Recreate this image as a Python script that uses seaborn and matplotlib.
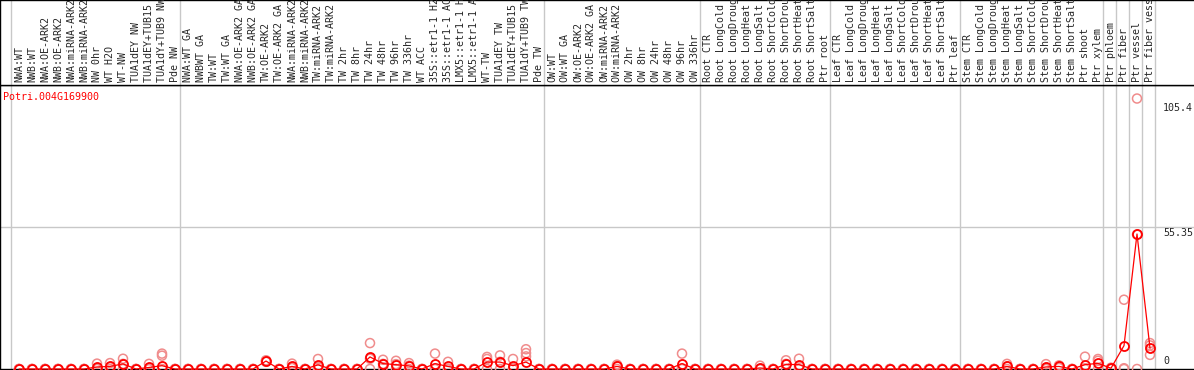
import matplotlib
matplotlib.use("Agg")
import matplotlib.pyplot as plt
import matplotlib.transforms as mtransforms
import numpy as np
import pandas as pd
import seaborn as sns

gene_id = "Potri.004G169900"

labels = [
    # NW
    "NWA:WT", "NWB:WT", "NWA:OE-ARK2", "NWB:OE-ARK2", "NWA:miRNA-ARK2", "NWB:miRNA-ARK2",
    "NW 0hr", "WT H2O", "WT-NW", "TUA1dEY NW", "TUA1dEY+TUB15 NW", "TUA1dY+TUB9 NW", "Pde NW",
    # TW
    "NWA:WT GA", "NWBWT GA", "TW:WT", "TW:WT GA", "NWA:OE-ARK2 GA", "NWB:OE-ARK2 GA",
    "TW:OE-ARK2", "TW:OE-ARK2 GA", "NWA:miRNA-ARK2", "NWB:miRNA-ARK2", "TW:miRNA-ARK2",
    "TW:miRNA-ARK2 GA", "TW 2hr", "TW 8hr", "TW 24hr", "TW 48hr", "TW 96hr", "TW 336hr",
    "WT ACC", "35S::etr1-1 H2O", "35S::etr1-1 ACC", "LMX5::etr1-1 H2O", "LMX5::etr1-1 ACC",
    "WT-TW", "TUA1dEY TW", "TUA1dEY+TUB15 TW", "TUA1dY+TUB9 TW", "Pde TW",
    # OW
    "OW:WT", "OW:WT GA", "OW:OE-ARK2", "OW:OE-ARK2 GA", "OW:miRNA-ARK2", "OW:miRNA-ARK2 GA",
    "OW 2hr", "OW 8hr", "OW 24hr", "OW 48hr", "OW 96hr", "OW 336hr",
    # root
    "Root CTR", "Root LongCold", "Root LongDrought", "Root LongHeat", "Root LongSalt",
    "Root ShortCold", "Root ShortDrought", "Root ShortHeat", "Root ShortSalt", "Ptr root",
    # leaf
    "Leaf CTR", "Leaf LongCold", "Leaf LongDrought", "Leaf LongHeat", "Leaf LongSalt",
    "Leaf ShortCold", "Leaf ShortDrought", "Leaf ShortHeat", "Leaf ShortSalt", "Ptr leaf",
    # stem
    "Stem CTR", "Stem LongCold", "Stem LongDrought", "Stem LongHeat", "Stem LongSalt",
    "Stem ShortCold", "Stem ShortDrought", "Stem ShortHeat", "Stem ShortSalt", "Ptr shoot",
    "Ptr xylem",
    # wood cell types
    "Ptr phloem", "Ptr fiber", "Ptr vessel", "Ptr fiber vessel",
]
group_sizes = [13, 28, 12, 10, 10, 11, 1, 1, 1, 1]

means = (
    [0, 0, 0, 0, 0, 0, 0.8, 1.0, 2.0, 0, 0.6, 1.3, 0]
    + [0, 0, 0, 0, 0, 0, 3.1, 0, 1.0, 0, 1.6, 0, 0, 0, 4.7, 2.1, 1.7, 1.2, 0, 2.1, 1.0, 0, 0,
       2.7, 2.7, 1.3, 2.7, 0]
    + [0, 0, 0, 0, 0, 1.0, 0, 0, 0, 0, 2.1, 0]
    + [0, 0, 0, 0, 0.4, 0, 1.8, 1.7, 0, 0]
    + [0] * 10
    + [0, 0, 0, 1.0, 0, 0, 0.8, 1.0, 0, 1.7, 2.2]
    + [0.3, 9.1, 52.6, 8.1]
)
rep_a = (
    [0, 0, 0, 0, 0, 0, 2.1, 2.3, 4.0, 0, 2.0, 6.0, 0]
    + [0, 0, 0, 0, 0, 0, 3.4, 0, 2.1, 0, 3.9, 0, 0, 0, 10.1, 3.6, 3.2, 2.3, 0, 6.0, 2.8, 0, 0,
       4.7, 5.3, 3.9, 7.7, 0]
    + [0, 0, 0, 0, 0, 1.7, 0, 0, 0, 0, 6.0, 0]
    + [0, 0, 0, 0, 1.3, 0, 3.4, 4.0, 0, 0]
    + [0] * 10
    + [0, 0, 0, 2.0, 0, 0, 1.9, 1.4, 0, 4.8, 3.9]
    + [0.5, 27.0, 105.4, 10.1]
)
rep_b = (
    [0, 0, 0, 0, 0, 0, 0.3, 0.7, 2.0, 0, 0, 5.2, 0]
    + [0, 0, 0, 0, 0, 0, 3.1, 0, 0.5, 0, 0.9, 0, 0, 0, 4.0, 2.0, 1.9, 1.3, 0, 0.3, 0.2, 0, 0,
       3.9, 2.8, 0, 6.2, 0]
    + [0, 0, 0, 0, 0, 1.2, 0, 0, 0, 0, 0.3, 0]
    + [0, 0, 0, 0, 0, 0, 2.0, 1.1, 0, 0]
    + [0] * 10
    + [0, 0, 0, 1.0, 0, 0, 0.5, 1.2, 0, 0.3, 3.2]
    + [0.3, 0.3, 52.4, 9.2]
)
rep_c = (
    [0] * 13
    + [0, 0, 0, 0, 0, 0, 2.8, 0, 0.4, 0, 0, 0, 0, 0, 0, 0.7, 0, 0, 0, 0, 0, 0, 0,
       0, 0, 0, 4.9, 0]
    + [0] * 12
    + [0] * 10
    + [0] * 10
    + [0, 0, 0, 0, 0, 0, 0, 0.4, 0, 0, 0]
    + [0, 0, 0, 5.5]
)

y_ticks = [0, 55.35, 105.4]

idx = np.arange(len(labels))
df_mean = pd.DataFrame({"sample": idx, "fpkm": means})
df_rep = pd.DataFrame({
    "sample": np.concatenate([idx, idx, idx]),
    "fpkm": rep_a + rep_b + rep_c,
})

sns.set_style("white")
plt.rcParams["font.family"] = ["DejaVu Sans Mono"]

W, H = 1194, 370
fig = plt.figure(figsize=(W / 100, H / 100), dpi=100)
ax = fig.add_axes([0, 1 / H, 1, 284 / H])
hdr = fig.add_axes([0, 285 / H, 1, 85 / H], sharex=ax)

red = "#ff0000"
pink = "#f08c8c"

sns.scatterplot(
    data=df_rep, x="sample", y="fpkm", ax=ax, marker="o", s=42,
    fc="none", ec=pink, linewidth=1.1, zorder=3, clip_on=False, legend=False,
)
sns.lineplot(
    data=df_mean, x="sample", y="fpkm", ax=ax, color=red, linewidth=0.9,
    marker="o", markersize=6.5, markerfacecolor="none", markeredgecolor=red,
    markeredgewidth=1.3, zorder=4, clip_on=False,
)

ymax = max(rep_a) * 1.05
ax.set_xlim(-19 / 13, (W - 19) / 13)
ax.set_ylim(0, ymax)

# group separators
bounds = [-0.6] + list(np.cumsum(group_sizes) - 1 + 0.42)
for b in bounds:
    ax.axvline(b, color="#c8c8c8", lw=1, zorder=1)
    hdr.axvline(b, color="#c8c8c8", lw=1, zorder=1)
ax.axhline(y_ticks[1], color="#c8c8c8", lw=1, zorder=1)

ax.set_xticks([])
ax.set_yticks([])
ax.set_xlabel("")
ax.set_ylabel("")
for a in (ax, hdr):
    a.spines["right"].set_visible(False)
    for s in ("left", "top", "bottom"):
        a.spines[s].set_color("black")
        a.spines[s].set_linewidth(1)
hdr.set_yticks([])
hdr.tick_params(axis="x", bottom=False, labelbottom=False)

tr = mtransforms.blended_transform_factory(hdr.transData, hdr.transAxes)
for i, lab in enumerate(labels):
    hdr.text(i, 3 / 85, lab, rotation=90, ha="center", va="bottom", fontsize=7.2,
             transform=tr, clip_on=True)

ax.text(3 / W, 1 - 7 / 284, gene_id, color=red, fontsize=7.2, ha="left", va="top",
        transform=ax.transAxes)

tx = mtransforms.blended_transform_factory(ax.transAxes, ax.transData)
ax.annotate(f"{y_ticks[2]:g}", (1163 / W, y_ticks[2]), xycoords=tx, xytext=(0, -4),
            textcoords="offset pixels", fontsize=7.2, ha="left", va="top")
ax.annotate(f"{y_ticks[1]:g}", (1163 / W, y_ticks[1]), xycoords=tx, xytext=(0, -1),
            textcoords="offset pixels", fontsize=7.2, ha="left", va="top")
ax.annotate(f"{y_ticks[0]:g}", (1163 / W, y_ticks[0]), xycoords=tx, xytext=(0, 3),
            textcoords="offset pixels", fontsize=7.2, ha="left", va="bottom")

fig.savefig("out.png", dpi=100)
